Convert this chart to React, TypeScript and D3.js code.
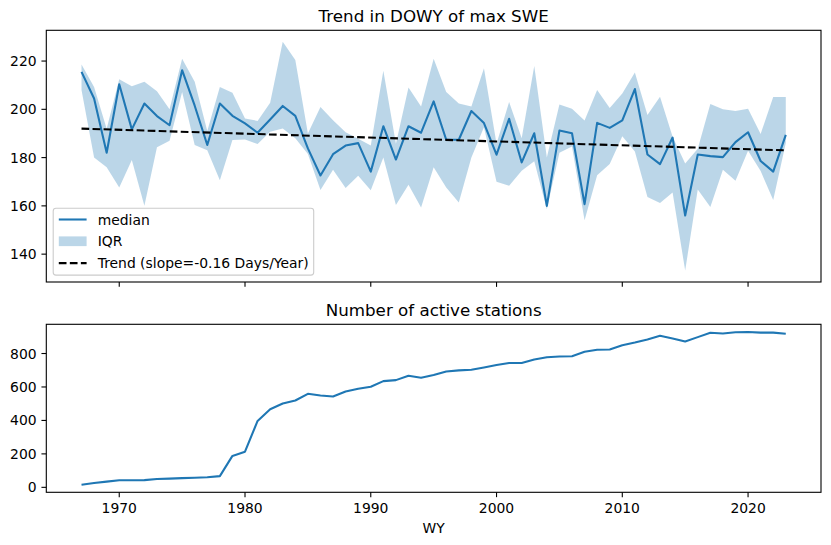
import React from "react";
import * as d3 from "d3";

const years: number[] = d3.range(1967, 2024);

const medianDOWY: number[] = [
  215.5, 204.5, 182, 210.4, 191.7, 202.4, 197.2, 193.4, 216.2, 201.5,
  185.2, 202.4, 197.3, 194.2, 190.3, 195.8, 201.4, 197.3, 183.8, 172.6,
  181.4, 185, 186, 174.2, 193, 179.2, 193, 190.3, 203.3, 187.4,
  187.4, 199.3, 194.3, 181.2, 196.1, 178, 190.1, 160, 191.2, 190.1,
  160.7, 194.4, 192.3, 195.4, 208.4, 181.3, 177.3, 188.3, 156, 181.3,
  180.6, 180.2, 186.4, 190.5, 178.6, 174.2, 189.4,
];

const upperDOWY: number[] = [
  218.6, 209.3, 192, 212.5, 209.6, 211.4, 207.5, 200, 221, 211.4,
  191, 209.2, 206.9, 196.2, 195.2, 202.7, 228, 220.4, 190, 201,
  195.5, 190.5, 187.8, 185, 216, 185.7, 209, 201.2, 221, 207.2,
  202.4, 201.2, 217, 185.7, 203, 188, 218, 180, 202, 200.2,
  195.4, 208, 200.5, 206.6, 215.3, 197.6, 205.2, 188.6, 177.6, 183.7,
  202.2, 200, 199.3, 200.2, 189.8, 205.1, 205.1,
];

const lowerDOWY: number[] = [
  208, 180, 176, 167.6, 179, 160, 184.3, 187, 207.2, 185.2,
  183, 170.6, 187.3, 187.5, 185.6, 190.7, 192.1, 188, 181.5, 166.6,
  175, 167.4, 172.5, 166.5, 180, 160.4, 168.7, 159.3, 176, 167.6,
  161.4, 180, 192.6, 170, 168.3, 174.6, 178.5, 158.6, 182, 184.6,
  154, 172.7, 177.3, 188.8, 182.5, 163.7, 161.2, 165.5, 133.2, 166.8,
  159.5, 175, 170.4, 182.8, 174.4, 162.4, 186,
];

const trendYears: number[] = [1967, 2023];
const trendValues: number[] = [192.0, 183.0];

const activeStations: number[] = [
  16, 26, 34, 42, 42, 43, 50, 52, 55, 57,
  60, 67, 188, 213, 397, 467, 501, 519, 559, 549,
  543, 573, 589, 601, 635, 641, 667, 655, 671, 693,
  699, 703, 717, 731, 743, 743, 764, 778, 782, 784,
  810, 822, 824, 850, 866, 884, 906, 890, 872, 898,
  924, 920, 927, 929, 925, 925, 918,
];

const xTicks: number[] = [1970, 1980, 1990, 2000, 2010, 2020];
const topYTicks: number[] = [140, 160, 180, 200, 220];
const bottomYTicks: number[] = [0, 200, 400, 600, 800];

const topTitle = "Trend in DOWY of max SWE";
const bottomTitle = "Number of active stations";
const xLabel = "WY";
const legendLabels = ["median", "IQR", "Trend (slope=-0.16 Days/Year)"];

const W = 831;
const H = 545;
const left = 46.3;
const right = 821;
const topA = { y0: 30.3, y1: 282 };
const botA = { y0: 324.3, y1: 492.3 };
const FONT = "DejaVu Sans, sans-serif";
const BLUE = "#1f77b4";
const TICK = 4.86;
const PAD = 4.86;

function padded(lo: number, hi: number): [number, number] {
  const r = hi - lo;
  return [lo - 0.05 * r, hi + 0.05 * r];
}

export default function App() {
  const xExt = padded(d3.min(years)!, d3.max(years)!);
  const x = d3.scaleLinear().domain(xExt).range([left, right]);

  const yTop = d3
    .scaleLinear()
    .domain(padded(d3.min(lowerDOWY)!, d3.max(upperDOWY)!))
    .range([topA.y1, topA.y0]);
  const yBot = d3
    .scaleLinear()
    .domain(padded(d3.min(activeStations)!, d3.max(activeStations)!))
    .range([botA.y1, botA.y0]);

  const area = d3
    .area<number>()
    .x((_, i) => x(years[i]))
    .y0((_, i) => yTop(lowerDOWY[i]))
    .y1((_, i) => yTop(upperDOWY[i]));
  const medLine = d3
    .line<number>()
    .x((_, i) => x(years[i]))
    .y((d) => yTop(d));
  const trendLine = d3
    .line<number>()
    .x((_, i) => x(trendYears[i]))
    .y((d) => yTop(d));
  const stLine = d3
    .line<number>()
    .x((_, i) => x(years[i]))
    .y((d) => yBot(d));

  const fs = 13.9;
  const legX = 53.2;
  const legY = 208.3;
  const legW = 260.5;
  const legH = 66.8;
  const rowY = [219.5, 241.3, 263.1];
  const hx0 = legX + 5.6;
  const hx1 = hx0 + 27.8;
  const tx = hx1 + 11.1;

  return (
    <svg
      width={W}
      height={H}
      style={{ position: "absolute", left: 0, top: 0, background: "#fff" }}
      fontFamily={FONT}
    >
      <rect x={0} y={0} width={W} height={H} fill="#fff" />
      {/* Top panel */}
      <path d={area(medianDOWY) || ""} fill={BLUE} fillOpacity={0.3} stroke="none" />
      <path d={medLine(medianDOWY) || ""} fill="none" stroke={BLUE} strokeWidth={2.08} strokeLinejoin="round" />
      <path
        d={trendLine(trendValues) || ""}
        fill="none"
        stroke="#000"
        strokeWidth={2.08}
        strokeDasharray="7.7,3.33"
      />
      <rect
        x={left}
        y={topA.y0}
        width={right - left}
        height={topA.y1 - topA.y0}
        fill="none"
        stroke="#000"
        strokeWidth={1.1}
      />
      {topYTicks.map((t) => (
        <g key={"ty" + t}>
          <line x1={left - TICK} x2={left} y1={yTop(t)} y2={yTop(t)} stroke="#000" strokeWidth={1.1} />
          <text x={left - TICK - PAD} y={yTop(t)} dy={5.07} textAnchor="end" fontSize={fs} fill="#000">
            {t}
          </text>
        </g>
      ))}
      {xTicks.map((t) => (
        <line key={"tx" + t} x1={x(t)} x2={x(t)} y1={topA.y1} y2={topA.y1 + TICK} stroke="#000" strokeWidth={1.1} />
      ))}
      <text x={(left + right) / 2} y={topA.y0 - 8.3} textAnchor="middle" fontSize={16.7} fill="#000">
        {topTitle}
      </text>

      {/* Legend */}
      <rect
        x={legX}
        y={legY}
        width={legW}
        height={legH}
        rx={2.8}
        fill="#fff"
        fillOpacity={0.8}
        stroke="#cccccc"
        strokeWidth={1.1}
      />
      <line x1={hx0} x2={hx1} y1={rowY[0]} y2={rowY[0]} stroke={BLUE} strokeWidth={2.08} />
      <rect x={hx0} y={rowY[1] - 4.9} width={hx1 - hx0} height={9.7} fill={BLUE} fillOpacity={0.3} />
      <line x1={hx0} x2={hx1} y1={rowY[2]} y2={rowY[2]} stroke="#000" strokeWidth={2.08} strokeDasharray="7.7,3.33" />
      {legendLabels.map((l, i) => (
        <text key={l} x={tx} y={rowY[i]} dy={5.07} fontSize={fs} fill="#000">
          {l}
        </text>
      ))}

      {/* Bottom panel */}
      <path d={stLine(activeStations) || ""} fill="none" stroke={BLUE} strokeWidth={2.08} strokeLinejoin="round" />
      <rect
        x={left}
        y={botA.y0}
        width={right - left}
        height={botA.y1 - botA.y0}
        fill="none"
        stroke="#000"
        strokeWidth={1.1}
      />
      {bottomYTicks.map((t) => (
        <g key={"by" + t}>
          <line x1={left - TICK} x2={left} y1={yBot(t)} y2={yBot(t)} stroke="#000" strokeWidth={1.1} />
          <text x={left - TICK - PAD} y={yBot(t)} dy={5.07} textAnchor="end" fontSize={fs} fill="#000">
            {t}
          </text>
        </g>
      ))}
      {xTicks.map((t) => (
        <g key={"bx" + t}>
          <line x1={x(t)} x2={x(t)} y1={botA.y1} y2={botA.y1 + TICK} stroke="#000" strokeWidth={1.1} />
          <text x={x(t)} y={513.3} textAnchor="middle" fontSize={fs} fill="#000">
            {t}
          </text>
        </g>
      ))}
      <text x={(left + right) / 2} y={botA.y0 - 8.3} textAnchor="middle" fontSize={16.7} fill="#000">
        {bottomTitle}
      </text>
      <text x={(left + right) / 2} y={533.3} textAnchor="middle" fontSize={fs} fill="#000">
        {xLabel}
      </text>
    </svg>
  );
}
